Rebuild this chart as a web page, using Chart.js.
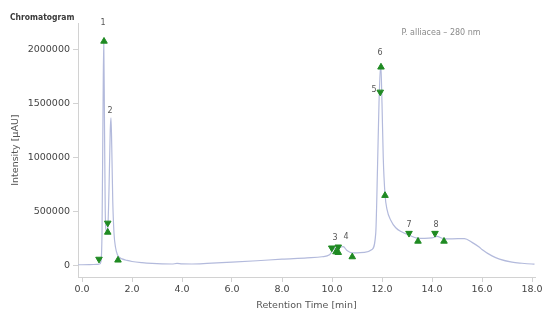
<!DOCTYPE html>
<html lang="en">
<head>
    <meta charset="UTF-8">
    <title>Chromatogram</title>
    <script src="https://cdn.jsdelivr.net/npm/chart.js@4.4.0/dist/chart.umd.min.js"></script>
    <style>
        body {
            margin: 0;
            background-color: #ffffff;
        }
        .chart-box {
            width: 550px;
            height: 315px;
        }
    </style>
</head>
<body>
    <div class="chart-box">
        <canvas id="chromatogram"></canvas>
    </div>
    <script>
        // trace (min / µAU)
        const retentionTimes = [-0.15, 0, 0.3, 0.6, 0.7, 0.76, 0.8, 0.84, 0.87, 0.9, 0.93, 0.97, 1.03, 1.08, 1.13, 1.16,
            1.19, 1.23, 1.28, 1.34, 1.42, 1.5, 1.6, 1.8, 2.0, 2.4, 2.8, 3.2, 3.6, 3.8, 4.0, 4.4, 5.0, 6.0, 7.0,
            8.0, 9.0, 9.6, 9.9, 10.05, 10.15, 10.3, 10.45, 10.6, 10.8, 11.0, 11.3, 11.6, 11.75, 11.82, 11.88,
            11.95, 12.0, 12.05, 12.12, 12.2, 12.35, 12.55, 12.8, 13.1, 13.4, 13.7, 14.0, 14.2, 14.45, 14.8,
            15.3, 15.6, 15.9, 16.0, 16.4, 16.7, 17.2, 17.6, 18.0, 18.1];
        const intensities = [8000, 8000, 9000, 12000, 15000, 40000, 300000, 1400000, 2090000, 1300000, 500000, 320000,
            350000, 700000, 1250000, 1365000, 1100000, 600000, 300000, 170000, 100000, 75000, 62000, 48000, 38000,
            27000, 20000, 16000, 15000, 20000, 16000, 15000, 20000, 32000, 45000, 60000, 72000, 82000, 100000,
            150000, 165000, 170000, 175000, 140000, 118000, 118000, 122000, 150000, 300000, 900000, 1500000,
            1870000, 1500000, 1000000, 660000, 520000, 420000, 350000, 310000, 280000, 255000, 252000, 256000,
            270000, 250000, 248000, 250000, 215000, 170000, 150000, 90000, 60000, 32000, 22000, 15000, 14000];

        // peak marks
        const peakEndTimes = [0.88, 1.03, 1.44, 10.16, 10.25, 10.81, 11.96, 12.12, 13.44, 14.48];
        const peakEndValues = [2073000, 308000, 50600, 127000, 121000, 81000, 1834000, 648000, 225000, 225000];
        const peakStartTimes = [0.68, 1.03, 9.99, 10.25, 11.93, 13.08, 14.12];
        const peakStartValues = [60000, 393500, 164000, 173000, 1604000, 299000, 299000];

        const peakNames = ['1', '2', '3', '4', '5', '6', '7', '8'];
        const peakNameTimes = [0.84, 1.12, 10.12, 10.56, 11.68, 11.92, 13.08, 14.16];
        const peakNameValues = [2239000, 1430000, 253000, 262000, 1623000, 1963000, 372000, 372000];

        const xTicks = [0, 2, 4, 6, 8, 10, 12, 14, 16, 18];
        const yTicks = [0, 500000, 1000000, 1500000, 2000000];

        const toPoints = (xs, ys) => xs.map((x, i) => ({ x: x, y: ys[i] }));

        const axisGray = '#d2d2d2';
        const textGray = '#444444';
        const font = 'DejaVu Sans';

        const peakLabels = {
            id: 'peakLabels',
            afterDatasetsDraw(chart) {
                const ctx = chart.ctx;
                const x = chart.scales.x;
                const y = chart.scales.y;
                ctx.save();
                ctx.font = '8px "' + font + '"';
                ctx.fillStyle = '#555555';
                ctx.textAlign = 'center';
                ctx.textBaseline = 'middle';
                peakNames.forEach(function (name, i) {
                    ctx.fillText(name, x.getPixelForValue(peakNameTimes[i]), y.getPixelForValue(peakNameValues[i]));
                });
                ctx.fillStyle = '#8a8a8a';
                ctx.fillText('P. alliacea \u2013 280 nm', chart.chartArea.right - 94, chart.chartArea.top + 10);
                ctx.restore();
            }
        };

        new Chart(document.getElementById('chromatogram'), {
            type: 'scatter',
            data: {
                datasets: [{
                    data: toPoints(retentionTimes, intensities),
                    showLine: true,
                    borderColor: '#b3badc',
                    borderWidth: 1.2,
                    pointRadius: 0,
                    cubicInterpolationMode: 'monotone',
                    order: 2
                }, {
                    data: toPoints(peakEndTimes, peakEndValues),
                    pointStyle: 'triangle',
                    pointRadius: 3.8,
                    backgroundColor: '#1f8a22',
                    borderColor: '#1f8a22',
                    borderWidth: 1,
                    order: 1
                }, {
                    data: toPoints(peakStartTimes, peakStartValues),
                    pointStyle: 'triangle',
                    rotation: 180,
                    pointRadius: 3.8,
                    backgroundColor: '#1f8a22',
                    borderColor: '#1f8a22',
                    borderWidth: 1,
                    order: 1
                }]
            },
            options: {
                responsive: true,
                maintainAspectRatio: false,
                animation: false,
                layout: { padding: { left: 10, right: 15, top: 0, bottom: 0 } },
                plugins: {
                    legend: { display: false },
                    tooltip: { enabled: false },
                    title: {
                        display: true,
                        text: 'Chromatogram',
                        align: 'start',
                        color: '#3a3a3a',
                        font: { family: 'DejaVu Sans Condensed', size: 8.5, weight: 'bold' },
                        padding: { top: 13, bottom: 0 }
                    }
                },
                scales: {
                    x: {
                        type: 'linear',
                        min: -0.16,
                        max: 18.12,
                        afterBuildTicks: function (axis) {
                            axis.ticks = xTicks.map(v => ({ value: v }));
                        },
                        afterFit: function (axis) {
                            axis.height = 38;
                        },
                        ticks: {
                            color: textGray,
                            font: { family: font, size: 9.5 },
                            padding: 2,
                            maxRotation: 0,
                            callback: v => v.toFixed(1)
                        },
                        grid: { drawOnChartArea: false, drawTicks: true, tickLength: 5, color: axisGray },
                        border: { color: axisGray },
                        title: {
                            display: true,
                            text: 'Retention Time [min]',
                            color: '#555555',
                            font: { family: font, size: 9.5 },
                            padding: { top: 4, bottom: 4 }
                        }
                    },
                    y: {
                        min: -105000,
                        max: 2240000,
                        afterBuildTicks: function (axis) {
                            axis.ticks = yTicks.map(v => ({ value: v }));
                        },
                        afterFit: function (axis) {
                            axis.width = 68;
                        },
                        ticks: {
                            color: textGray,
                            font: { family: font, size: 9.5 },
                            padding: 3,
                            callback: v => String(v)
                        },
                        grid: { drawOnChartArea: false, drawTicks: true, tickLength: 5, color: axisGray },
                        border: { color: axisGray },
                        title: {
                            display: true,
                            text: 'Intensity [\u00b5AU]',
                            color: '#555555',
                            font: { family: font, size: 9.5 },
                            padding: { top: 0, bottom: 0 }
                        }
                    }
                }
            },
            plugins: [peakLabels]
        });
    </script>
</body>
</html>
